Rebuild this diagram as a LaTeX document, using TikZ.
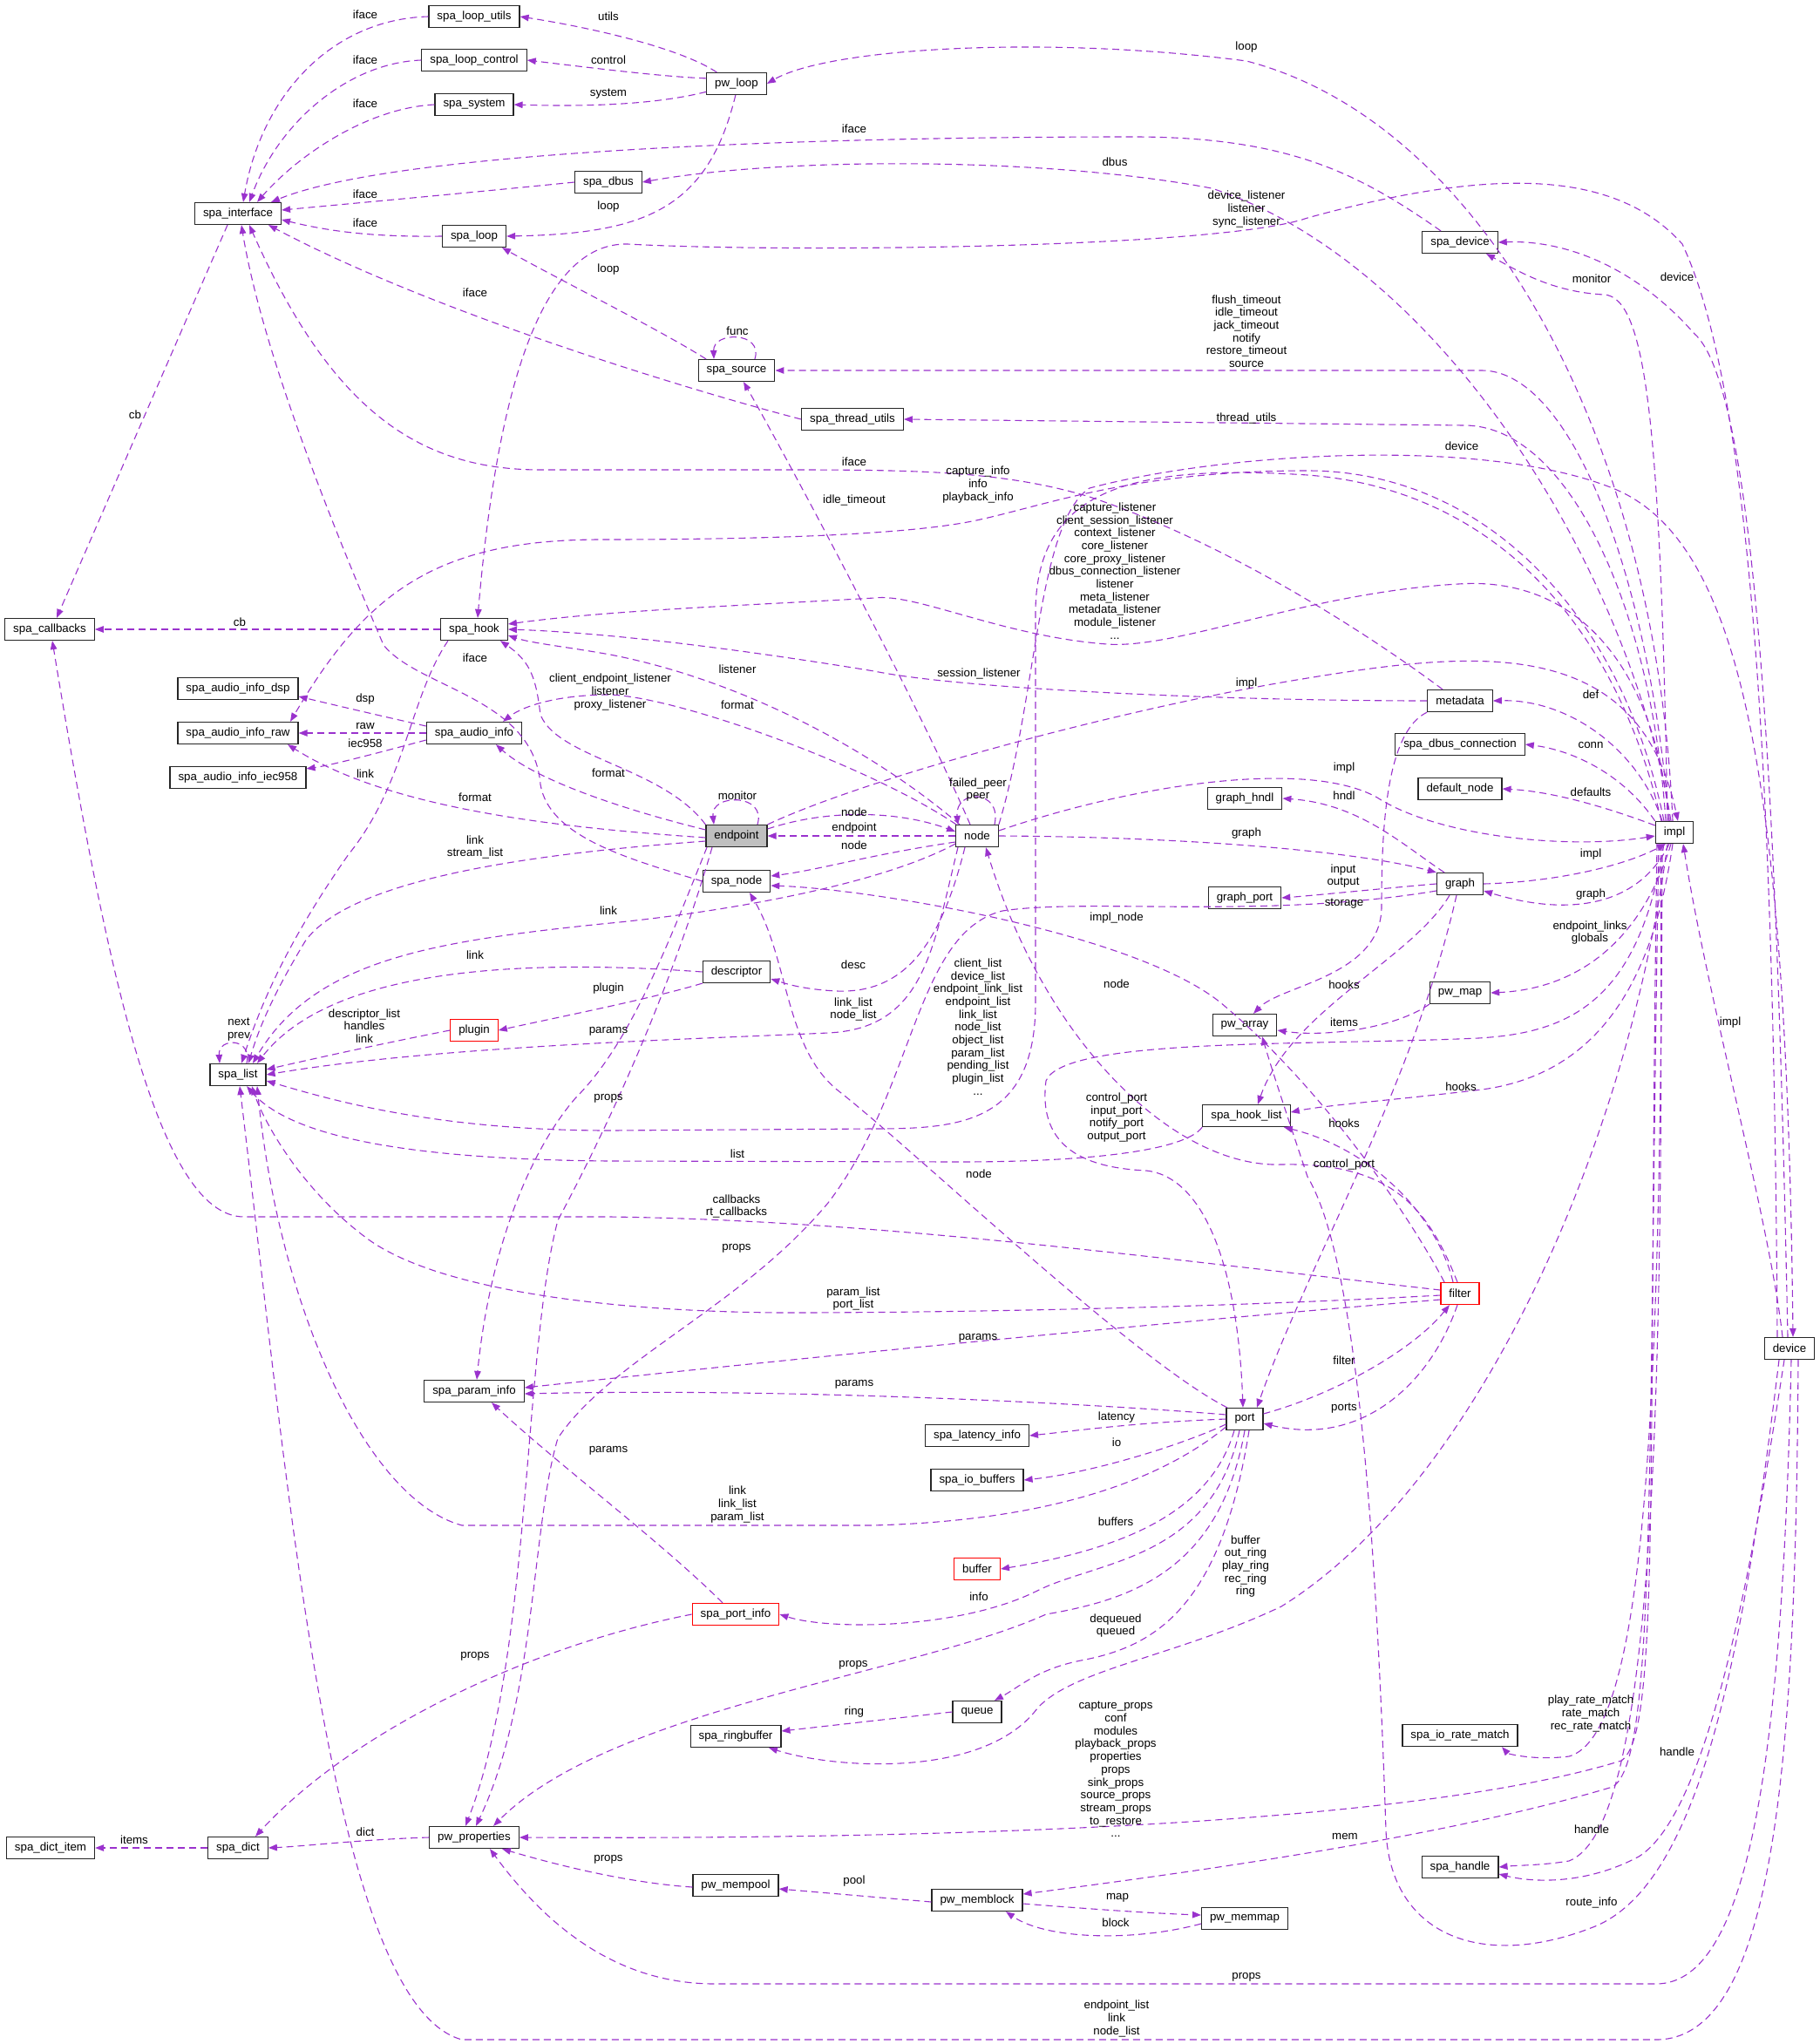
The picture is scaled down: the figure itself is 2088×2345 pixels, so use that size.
\documentclass[tikz,border=0pt]{standalone}
\usepackage{fontspec}
\setmainfont{Liberation Sans}
\usepackage{xcolor}
\usepackage{tikz}
\definecolor{edgepurple}{RGB}{154,50,205}
\definecolor{boxgrey}{RGB}{191,191,191}
\usetikzlibrary{arrows.meta, positioning}

\begin{document}
\begin{tikzpicture}[
    x=1pt, y=-1pt,
    box/.style={rectangle, draw=black!85, line width=1.2pt, minimum height=25pt, inner xsep=9.5pt, inner ysep=0pt, font=\fontsize{13.3}{15}\selectfont},
    trunc/.style={box, draw=red},
    lbl/.style={align=center, inner sep=0pt, font=\fontsize{13.3}{14.7}\selectfont},
    conn/.style={draw=edgepurple, line width=1.1pt, dash pattern=on 8pt off 5pt, -{Triangle[length=10pt,width=7.5pt]}}
]
    \useasboundingbox (0,0) rectangle (2088,2345);

    \node[box] (loputils) at (544,19) {spa\_loop\_utils};
    \node[box] (locontrol) at (544,69) {spa\_loop\_control};
    \node[box] (system) at (544,120) {spa\_system};
    \node[box] (pwloop) at (845,96) {pw\_loop};
    \node[box] (dbus) at (698,209) {spa\_dbus};
    \node[box] (iface) at (273,245) {spa\_interface};
    \node[box] (sloop) at (544,271) {spa\_loop};
    \node[box] (sdevice) at (1675,278) {spa\_device};
    \node[box] (source) at (845,425) {spa\_source};
    \node[box] (thutils) at (978,481) {spa\_thread\_utils};
    \node[box] (callbacks) at (57,722) {spa\_callbacks};
    \node[box] (hook) at (544,722) {spa\_hook};
    \node[box] (aidsp) at (273,790) {spa\_audio\_info\_dsp};
    \node[box] (airaw) at (273,841) {spa\_audio\_info\_raw};
    \node[box] (ainfo) at (544,841) {spa\_audio\_info};
    \node[box] (aiiec) at (273,892) {spa\_audio\_info\_iec958};
    \node[box, fill=boxgrey] (endpoint) at (845,959) {endpoint};
    \node[box] (node) at (1121,959) {node};
    \node[box] (snode) at (845,1011) {spa\_node};
    \node[box] (descriptor) at (845,1115) {descriptor};
    \node[trunc] (plugin) at (544,1182) {plugin};
    \node[box] (slist) at (273,1233) {spa\_list};
    \node[box] (metadata) at (1675,804) {metadata};
    \node[box] (dbusconn) at (1675,854) {spa\_dbus\_connection};
    \node[box] (defnode) at (1675,905) {default\_node};
    \node[box] (impl) at (1921,955) {impl};
    \node[box] (ghndl) at (1428,916) {graph\_hndl};
    \node[box] (graph) at (1675,1014) {graph};
    \node[box] (gport) at (1428,1030) {graph\_port};
    \node[box] (pwmap) at (1675,1139) {pw\_map};
    \node[box] (pwarray) at (1428,1176) {pw\_array};
    \node[box] (hooklist) at (1430,1280) {spa\_hook\_list};
    \node[trunc] (filter) at (1675,1484) {filter};
    \node[box] (device) at (2053,1547) {device};
    \node[box] (paraminfo) at (544,1596) {spa\_param\_info};
    \node[box] (port) at (1428,1628) {port};
    \node[box] (latency) at (1121,1647) {spa\_latency\_info};
    \node[box] (iobuf) at (1121,1698) {spa\_io\_buffers};
    \node[trunc] (buffer) at (1121,1800) {buffer};
    \node[trunc] (portinfo) at (844,1852) {spa\_port\_info};
    \node[box] (queue) at (1121,1964) {queue};
    \node[box] (ringbuf) at (844,1992) {spa\_ringbuffer};
    \node[box] (ratematch) at (1675,1991) {spa\_io\_rate\_match};
    \node[box] (dictitem) at (58,2120) {spa\_dict\_item};
    \node[box] (dict) at (273,2120) {spa\_dict};
    \node[box] (props) at (544,2108) {pw\_properties};
    \node[box] (handle) at (1675,2142) {spa\_handle};
    \node[box] (mempool) at (844,2163) {pw\_mempool};
    \node[box] (memblock) at (1121,2180) {pw\_memblock};
    \node[box] (memmap) at (1428,2201) {pw\_memmap};

    \draw[conn] (pwloop.150) .. controls (780,55) and (680,32) .. (loputils.east);
    \draw[conn] (pwloop.170) .. controls (760,88) and (680,78) .. (locontrol.east);
    \draw[conn] (pwloop.195) .. controls (760,118) and (690,123) .. (system.east);
    \draw[conn] (pwloop.265) .. controls (812,240) and (740,268) .. (sloop.east);
    \draw[conn] (loputils.west) .. controls (380,22) and (300,110) .. ([xshift=6pt]iface.north);
    \draw[conn] (locontrol.west) .. controls (400,72) and (320,140) .. ([xshift=13pt]iface.north);
    \draw[conn] (system.west) .. controls (420,124) and (340,180) .. ([xshift=22pt]iface.north);
    \draw[conn] ([xshift=-22pt]sdevice.north) .. controls (1560,200) and (1480,157) .. (1300,157) .. controls (900,157) and (450,175) .. ([xshift=38pt]iface.north);
    \draw[conn] (dbus.west) .. controls (550,220) and (420,232) .. ([yshift=4pt]iface.east);
    \draw[conn] (sloop.west) .. controls (430,272) and (380,266) .. ([yshift=-7pt]iface.east);
    \draw[conn] (thutils.west) .. controls (800,450) and (500,360) .. ([xshift=35pt]iface.south);
    \draw[conn] ([xshift=-20pt]metadata.north) .. controls (1560,720) and (1400,620) .. (1250,570) .. controls (1150,540) and (1050,539) .. (900,539) -- (620,539) .. controls (480,539) and (380,470) .. ([xshift=13pt]iface.south);
    \draw[conn] (snode.west) .. controls (720,985) and (630,960) .. (620,900) .. controls (612,800) and (480,790) .. (440,740) .. controls (380,600) and (300,400) .. ([xshift=4pt]iface.south);
    \draw[conn] ([xshift=-12pt]iface.south) -- ([xshift=8pt]callbacks.north);
    \draw[conn] (hook.west) -- (callbacks.east);
    \draw[conn] ([yshift=4pt]filter.west) .. controls (1300,1440) and (1000,1400) .. (700,1396) -- (280,1396) .. controls (180,1396) and (120,1100) .. ([xshift=3pt]callbacks.south);

    \draw[conn] ([xshift=-14pt]device.north) .. controls (2035,900) and (2010,450) .. (1930,280) .. controls (1850,190) and (1700,195) .. (1500,250) .. controls (1400,285) and (900,290) .. (720,280) .. controls (620,278) and (570,450) .. ([xshift=4pt]hook.north);
    \draw[conn] ([xshift=-6pt]impl.north) .. controls (1900,780) and (1820,660) .. (1673,670) .. controls (1500,680) and (1350,745) .. (1270,739) .. controls (1150,730) and (1050,680) .. (1003,686) .. controls (850,695) and (700,700) .. ([yshift=6pt]hook.east);
    \draw[conn] (metadata.west) .. controls (1400,804) and (1100,790) .. (1003,770) .. controls (850,745) and (700,726) .. (hook.east);
    \draw[conn] ([xshift=-20pt]node.north) .. controls (1000,860) and (850,780) .. (700,751) .. controls (650,742) and (610,738) .. ([yshift=-7pt]hook.east);
    \draw[conn] (endpoint.north west) .. controls (760,880) and (640,870) .. (620,820) .. controls (615,780) and (610,760) .. ([xshift=30pt]hook.south);

    \draw[conn] ([yshift=8pt]ainfo.west) .. controls (440,822) and (380,808) .. ([yshift=-9pt]aidsp.east);
    \draw[conn] (ainfo.west) -- (airaw.east);
    \draw[conn] ([yshift=-8pt]ainfo.west) .. controls (440,862) and (380,878) .. ([yshift=-3pt]aiiec.north east);
    \draw[conn] ([xshift=-12pt]impl.north) .. controls (1860,700) and (1700,540) .. (1500,540) .. controls (1300,540) and (1200,580) .. (1120,597) .. controls (1050,612) and (900,619) .. (690,619) .. controls (500,619) and (420,680) .. ([xshift=60pt]airaw.north);
    \draw[conn] ([yshift=7pt]endpoint.west) .. controls (740,935) and (620,900) .. ([xshift=25pt]ainfo.south);
    \draw[conn] ([yshift=-2pt]endpoint.west) .. controls (650,950) and (450,930) .. ([xshift=57pt]airaw.south);
    \draw[conn] ([xshift=-24pt]node.north) .. controls (1000,880) and (780,800) .. (700,797) .. controls (640,797) and (600,810) .. ([xshift=33pt]ainfo.north);

    \draw[conn] ([xshift=24pt]endpoint.north) .. controls (880,910) and (815,910) .. ([xshift=-26pt]endpoint.north);
    \draw[conn] ([xshift=20pt]node.north) .. controls (1150,905) and (1095,905) .. ([xshift=-22pt]node.north);
    \draw[conn] ([xshift=21pt]source.north) .. controls (876,380) and (818,380) .. ([xshift=-26pt]source.north);
    \draw[conn] ([xshift=10pt]slist.north) .. controls (290,1190) and (250,1190) .. ([xshift=-21pt]slist.north);

    \draw[conn] ([yshift=8pt]endpoint.east) .. controls (950,928) and (1030,930) .. ([yshift=5pt]node.west);
    \draw[conn] (node.west) -- (endpoint.east);
    \draw[conn] ([yshift=-7pt]node.west) .. controls (1000,980) and (940,998) .. ([yshift=6pt]snode.east);
    \draw[conn] ([xshift=-18pt]filter.north) .. controls (1620,1400) and (1520,1250) .. (1400,1150) .. controls (1300,1070) and (1000,1020) .. ([yshift=-5pt]snode.east);
    \draw[conn] ([xshift=-20pt]port.north) .. controls (1300,1560) and (1050,1320) .. (960,1250) .. controls (900,1200) and (905,1100) .. ([xshift=15pt]snode.south);
    \draw[conn] ([xshift=-14pt]node.south) .. controls (1080,1080) and (1040,1140) .. (960,1137) .. controls (920,1135) and (900,1128) .. ([yshift=-8pt]descriptor.east);
    \draw[conn] (descriptor.south west) .. controls (750,1145) and (650,1165) .. (plugin.east);
    \draw[conn] (descriptor.west) .. controls (600,1100) and (380,1110) .. ([xshift=22pt]slist.north);
    \draw[conn] ([yshift=-9pt]node.west) .. controls (1000,1020) and (800,1050) .. (690,1060) .. controls (500,1080) and (360,1100) .. ([xshift=17pt]slist.north);
    \draw[conn] ([yshift=-6pt]endpoint.west) .. controls (600,980) and (400,1010) .. (350,1080) .. controls (320,1130) and (300,1170) .. ([xshift=12pt]slist.north);
    \draw[conn] ([xshift=-30pt]hook.south) .. controls (470,800) and (465,900) .. (400,980) .. controls (330,1080) and (300,1150) .. ([xshift=4pt]slist.north);
    \draw[conn] (plugin.west) .. controls (450,1195) and (380,1210) .. ([yshift=6pt]slist.east);
    \draw[conn] ([xshift=-22pt]node.south) .. controls (1070,1090) and (1060,1180) .. (950,1185) .. controls (800,1192) and (500,1200) .. (slist.east);
    \draw[conn] ([xshift=-15pt]impl.north) .. controls (1850,700) and (1700,560) .. (1500,545) .. controls (1300,532) and (1190,560) .. (1188,700) -- (1188,1150) .. controls (1188,1290) and (1100,1295) .. (1000,1295) -- (700,1297) .. controls (500,1297) and (380,1262) .. ([yshift=-7pt]slist.east);
    \draw[conn] (hooklist.south west) .. controls (1360,1320) and (1250,1333) .. (1100,1333) -- (700,1332) .. controls (450,1330) and (330,1300) .. ([xshift=10pt]slist.south);
    \draw[conn] ([yshift=-2pt]filter.west) .. controls (1400,1500) and (1100,1506) .. (900,1506) .. controls (700,1505) and (500,1480) .. (420,1420) .. controls (340,1360) and (300,1280) .. ([xshift=16pt]slist.south);
    \draw[conn] ([yshift=-9pt]port.west) .. controls (1330,1700) and (1200,1745) .. (1000,1750) -- (530,1750) .. controls (420,1720) and (320,1500) .. ([xshift=22pt]slist.south);
    \draw[conn] ([xshift=10pt]device.south) .. controls (2060,2000) and (2040,2340) .. (1900,2340) -- (530,2340) .. controls (380,2300) and (330,1700) .. ([xshift=2pt]slist.south);

    \draw[conn] ([xshift=-2pt]impl.north) .. controls (1900,500) and (1700,140) .. (1430,70) .. controls (1200,40) and (950,55) .. (pwloop.east);
    \draw[conn] ([xshift=-4pt]impl.north) .. controls (1870,650) and (1650,300) .. (1390,216) .. controls (1200,180) and (900,180) .. (dbus.east);
    \draw[conn] ([xshift=-8pt]impl.north) .. controls (1905,500) and (1890,340) .. (1840,338) .. controls (1780,335) and (1740,310) .. ([xshift=30pt]sdevice.south);
    \draw[conn] ([xshift=-6pt]impl.north) .. controls (1890,650) and (1800,425) .. (1700,425) -- (source.east);
    \draw[conn] ([xshift=-10pt]impl.north) .. controls (1895,700) and (1800,488) .. (1680,488) -- (thutils.east);
    \draw[conn] ([xshift=-14pt]impl.north) .. controls (1880,860) and (1800,802) .. (metadata.east);
    \draw[conn] (impl.north west) .. controls (1860,885) and (1800,860) .. (dbusconn.east);
    \draw[conn] ([yshift=8pt]impl.west) .. controls (1840,925) and (1780,908) .. (defnode.east);
    \draw[conn] ([yshift=6pt]node.east) .. controls (1300,900) and (1500,870) .. (1580,915) .. controls (1650,960) and (1800,975) .. ([yshift=-4pt]impl.west);
    \draw[conn] (endpoint.north east) .. controls (1000,890) and (1300,810) .. (1500,778) .. controls (1700,745) and (1880,730) .. ([xshift=4pt]impl.north);
    \draw[conn] (graph.east) .. controls (1780,1012) and (1860,995) .. ([xshift=-10pt]impl.south);
    \draw[conn] ([xshift=-6pt]impl.south) .. controls (1880,1040) and (1800,1052) .. ([yshift=-8pt]graph.east);
    \draw[conn] ([xshift=-4pt]impl.south) .. controls (1880,1090) and (1800,1135) .. (pwmap.east);
    \draw[conn] (node.east) .. controls (1350,960) and (1550,975) .. (graph.north west);
    \draw[conn] ([xshift=-18pt]graph.north) .. controls (1610,970) and (1560,922) .. (ghndl.east);
    \draw[conn] (graph.west) .. controls (1600,1018) and (1500,1028) .. (gport.east);
    \draw[conn] (pwmap.south west) .. controls (1600,1180) and (1520,1190) .. ([yshift=-6pt]pwarray.east);
    \draw[conn] (metadata.south west) .. controls (1590,840) and (1585,950) .. (1585,1040) .. controls (1585,1120) and (1470,1130) .. ([xshift=10pt]pwarray.north);
    \draw[conn] ([xshift=-12pt]graph.south) .. controls (1620,1100) and (1480,1160) .. ([xshift=13pt]hooklist.north);
    \draw[conn] ([xshift=-4pt]graph.south) .. controls (1620,1250) and (1500,1450) .. ([xshift=14pt]port.north);
    \draw[conn] ([xshift=-2pt]impl.south) .. controls (1900,1100) and (1850,1230) .. (1700,1250) .. controls (1600,1262) and (1520,1268) .. ([yshift=4pt]hooklist.east);
    \draw[conn] ([xshift=-8pt]filter.north) .. controls (1650,1400) and (1580,1320) .. ([xshift=-8pt]hooklist.south east);
    \draw[conn] ([xshift=-3pt]filter.north) .. controls (1640,1390) and (1600,1333) .. (1470,1336) .. controls (1350,1340) and (1200,1200) .. ([xshift=10pt]node.south);
    \draw[conn] ([xshift=-12pt]impl.south) .. controls (1880,1150) and (1800,1185) .. (1696,1191) .. controls (1500,1200) and (1220,1190) .. (1200,1240) .. controls (1190,1320) and (1250,1340) .. (1315,1343) .. controls (1380,1350) and (1420,1450) .. ([xshift=-2pt]port.north);
    \draw[conn] ([xshift=-8pt]device.north) .. controls (2030,1400) and (1960,1150) .. ([xshift=10pt]impl.south);
    \draw[conn] ([xshift=-2pt]device.north) .. controls (2040,1000) and (2020,450) .. (1944,383) .. controls (1880,310) and (1800,275) .. (sdevice.east);
    \draw[conn] (node.north east) .. controls (1190,800) and (1190,600) .. (1250,560) .. controls (1400,520) and (1700,500) .. (1850,560) .. controls (2000,620) and (2050,900) .. ([xshift=4pt]device.north);

    \draw[conn] ([yshift=6pt]port.east) .. controls (1530,1600) and (1620,1550) .. ([xshift=-12pt]filter.south);
    \draw[conn] ([xshift=-3pt]filter.south) .. controls (1640,1590) and (1560,1660) .. ([yshift=-5pt]port.east);
    \draw[conn] ([yshift=-7pt]filter.west) .. controls (1300,1520) and (900,1560) .. ([yshift=4pt]paraminfo.east);
    \draw[conn] ([yshift=5pt]port.west) .. controls (1250,1610) and (900,1592) .. ([yshift=-3pt]paraminfo.east);
    \draw[conn] ([xshift=-15pt]portinfo.north) .. controls (760,1770) and (640,1680) .. ([xshift=20pt]paraminfo.south);
    \draw[conn] (port.west) .. controls (1300,1632) and (1230,1642) .. (latency.east);
    \draw[conn] ([yshift=-6pt]port.west) .. controls (1350,1660) and (1250,1690) .. (iobuf.east);
    \draw[conn] ([xshift=-12pt]port.south) .. controls (1390,1730) and (1300,1775) .. (buffer.east);
    \draw[conn] ([xshift=-6pt]port.south) .. controls (1390,1790) and (1260,1790) .. (1190,1825) .. controls (1100,1870) and (950,1870) .. (portinfo.east);
    \draw[conn] (port.south) .. controls (1400,1800) and (1300,1835) .. (1200,1852) .. controls (1050,1920) and (700,1960) .. ([xshift=22pt]props.north);
    \draw[conn] ([xshift=5pt]port.south) .. controls (1400,1850) and (1320,1890) .. (1240,1905) .. controls (1190,1915) and (1170,1935) .. ([xshift=20pt]queue.north);
    \draw[conn] ([xshift=-8pt]impl.south) .. controls (1870,1300) and (1700,1700) .. (1470,1843) .. controls (1350,1900) and (1230,1915) .. (1190,1960) .. controls (1130,2040) and (960,2030) .. ([xshift=38pt]ringbuf.south);
    \draw[conn] (queue.west) -- ([yshift=6pt]ringbuf.east);
    \draw[conn] ([xshift=-14pt]impl.south) .. controls (1905,1600) and (1890,1990) .. (1800,2015) .. controls (1760,2020) and (1730,2012) .. ([xshift=48pt]ratematch.south);
    \draw[conn] ([xshift=-16pt]impl.south) .. controls (1910,1700) and (1890,2100) .. (1800,2135) .. controls (1770,2140) and (1740,2140) .. (handle.east);
    \draw[conn] ([xshift=-6pt]device.south) .. controls (2010,1800) and (1960,2080) .. (1880,2130) .. controls (1820,2162) and (1760,2160) .. ([yshift=-8pt]handle.east);
    \draw[conn] ([xshift=-12pt]device.south) .. controls (2000,1900) and (1950,2160) .. (1830,2210) .. controls (1700,2262) and (1595,2220) .. (1590,2100) .. controls (1580,1800) and (1560,1450) .. (1500,1350) .. controls (1480,1290) and (1460,1230) .. ([xshift=20pt]pwarray.south);
    \draw[conn] ([xshift=2pt]device.south) .. controls (2045,2000) and (2010,2276) .. (1900,2276) -- (820,2276) .. controls (700,2276) and (620,2200) .. ([xshift=18pt]props.south);
    \draw[conn] ([yshift=-2pt]mempool.west) .. controls (720,2160) and (640,2140) .. ([xshift=32pt]props.south);
    \draw[conn] ([yshift=-2pt]memblock.west) -- ([yshift=-4pt]mempool.east);
    \draw[conn] ([yshift=-4pt]memblock.east) .. controls (1250,2190) and (1320,2195) .. ([yshift=4pt]memmap.west);
    \draw[conn] ([yshift=-6pt]memmap.west) .. controls (1300,2228) and (1200,2225) .. ([xshift=33pt]memblock.south);
    \draw[conn] ([xshift=-18pt]impl.south) .. controls (1890,1700) and (1900,2020) .. (1850,2050) .. controls (1650,2110) and (1350,2150) .. ([yshift=7pt]memblock.east);
    \draw[conn] ([xshift=-20pt]impl.south) .. controls (1890,1700) and (1905,1990) .. (1860,2020) .. controls (1600,2100) and (1000,2110) .. (props.east);
    \draw[conn] (portinfo.west) .. controls (600,1890) and (400,1990) .. ([xshift=20pt]dict.north);
    \draw[conn] (props.west) .. controls (420,2110) and (350,2118) .. (dict.east);
    \draw[conn] (dict.west) -- (dictitem.east);
    \draw[conn] ([xshift=-28pt]endpoint.south) .. controls (780,1100) and (720,1250) .. (640,1400) .. controls (600,1550) and (610,1900) .. ([xshift=-10pt]props.north);
    \draw[conn] ([xshift=-34pt]endpoint.south) .. controls (760,1100) and (720,1200) .. (660,1260) .. controls (600,1330) and (560,1450) .. ([xshift=3pt]paraminfo.north);
    \draw[conn] ([yshift=-8pt]graph.west) .. controls (1450,1055) and (1250,1030) .. (1150,1045) .. controls (1050,1070) and (1050,1250) .. (950,1380) .. controls (850,1500) and (700,1560) .. (640,1650) .. controls (610,1750) and (615,1950) .. ([xshift=2pt]props.north);
    \draw[conn] ([xshift=-8pt]node.north) .. controls (1050,800) and (900,520) .. ([xshift=8pt]source.south);
    \draw[conn] ([xshift=-35pt]source.north) .. controls (760,380) and (640,320) .. ([xshift=32pt]sloop.south);

    \node[lbl] (l1) at (419,17) {iface};
    \node[lbl] (l2) at (419,69) {iface};
    \node[lbl] (l3) at (419,119) {iface};
    \node[lbl] (l4) at (698,19) {utils};
    \node[lbl] (l5) at (698,69) {control};
    \node[lbl] (l6) at (698,108) {system};
    \node[lbl] (l7) at (1430,54) {loop};
    \node[lbl] (l8) at (980,148) {iface};
    \node[lbl] (l9) at (1279,186) {dbus};
    \node[lbl] (l10) at (419,223) {iface};
    \node[lbl] (l11) at (698,237) {loop};
    \node[lbl] (l12) at (1430,240) {device\_listener\\listener\\sync\_listener};
    \node[lbl] (l13) at (419,256) {iface};
    \node[lbl] (l14) at (1826,320) {monitor};
    \node[lbl] (l15) at (1924,318) {device};
    \node[lbl] (l16) at (698,309) {loop};
    \node[lbl] (l17) at (545,336) {iface};
    \node[lbl] (l18) at (846,380) {func};
    \node[lbl] (l19) at (1430,380) {flush\_timeout\\idle\_timeout\\jack\_timeout\\notify\\restore\_timeout\\source};
    \node[lbl] (l20) at (1430,480) {thread\_utils};
    \node[lbl] (l21) at (980,530) {iface};
    \node[lbl] (l22) at (1677,512) {device};
    \node[lbl] (l23) at (1122,556) {capture\_info\\info\\playback\_info};
    \node[lbl] (l24) at (980,574) {idle\_timeout};
    \node[lbl] (l25) at (1279,655) {capture\_listener\\client\_session\_listener\\context\_listener\\core\_listener\\core\_proxy\_listener\\dbus\_connection\_listener\\listener\\meta\_listener\\metadata\_listener\\module\_listener\\...};
    \node[lbl] (l26) at (155,476) {cb};
    \node[lbl] (l27) at (275,714) {cb};
    \node[lbl] (l28) at (545,755) {iface};
    \node[lbl] (l29) at (700,794) {client\_endpoint\_listener\\listener\\proxy\_listener};
    \node[lbl] (l30) at (846,768) {listener};
    \node[lbl] (l31) at (1123,773) {session\_listener};
    \node[lbl] (l32) at (846,809) {format};
    \node[lbl] (l33) at (1430,784) {impl};
    \node[lbl] (l34) at (1825,797) {def};
    \node[lbl] (l35) at (419,802) {dsp};
    \node[lbl] (l36) at (419,833) {raw};
    \node[lbl] (l37) at (419,853) {iec958};
    \node[lbl] (l38) at (1825,855) {conn};
    \node[lbl] (l39) at (419,888) {link};
    \node[lbl] (l40) at (698,887) {format};
    \node[lbl] (l41) at (545,915) {format};
    \node[lbl] (l42) at (846,913) {monitor};
    \node[lbl] (l43) at (1122,906) {failed\_peer\\peer};
    \node[lbl] (l44) at (980,932) {node};
    \node[lbl] (l45) at (980,950) {endpoint};
    \node[lbl] (l46) at (980,970) {node};
    \node[lbl] (l47) at (1542,881) {impl};
    \node[lbl] (l48) at (1542,913) {hndl};
    \node[lbl] (l49) at (1825,909) {defaults};
    \node[lbl] (l50) at (1430,956) {graph};
    \node[lbl] (l51) at (545,972) {link\\stream\_list};
    \node[lbl] (l52) at (1825,980) {impl};
    \node[lbl] (l53) at (1541,1005) {input\\output};
    \node[lbl] (l54) at (1825,1026) {graph};
    \node[lbl] (l55) at (1542,1037) {storage};
    \node[lbl] (l56) at (698,1045) {link};
    \node[lbl] (l57) at (1281,1053) {impl\_node};
    \node[lbl] (l58) at (1824,1070) {endpoint\_links\\globals};
    \node[lbl] (l59) at (545,1096) {link};
    \node[lbl] (l60) at (979,1107) {desc};
    \node[lbl] (l61) at (1122,1178) {client\_list\\device\_list\\endpoint\_link\_list\\endpoint\_list\\link\_list\\node\_list\\object\_list\\param\_list\\pending\_list\\plugin\_list\\...};
    \node[lbl] (l62) at (1281,1129) {node};
    \node[lbl] (l63) at (698,1134) {plugin};
    \node[lbl] (l64) at (979,1158) {link\_list\\node\_list};
    \node[lbl] (l65) at (1542,1130) {hooks};
    \node[lbl] (l66) at (1985,1173) {impl};
    \node[lbl] (l67) at (1542,1173) {items};
    \node[lbl] (l68) at (274,1181) {next\\prev};
    \node[lbl] (l69) at (418,1177) {descriptor\_list\\handles\\link};
    \node[lbl] (l70) at (698,1183) {params};
    \node[lbl] (l71) at (1676,1247) {hooks};
    \node[lbl] (l72) at (698,1260) {props};
    \node[lbl] (l73) at (1281,1282) {control\_port\\input\_port\\notify\_port\\output\_port};
    \node[lbl] (l74) at (846,1324) {list};
    \node[lbl] (l75) at (1542,1289) {hooks};
    \node[lbl] (l76) at (1123,1347) {node};
    \node[lbl] (l77) at (1542,1336) {control\_port};
    \node[lbl] (l78) at (845,1384) {callbacks\\rt\_callbacks};
    \node[lbl] (l79) at (845,1432) {props};
    \node[lbl] (l80) at (979,1490) {param\_list\\port\_list};
    \node[lbl] (l81) at (1122,1535) {params};
    \node[lbl] (l82) at (1542,1561) {filter};
    \node[lbl] (l83) at (980,1588) {params};
    \node[lbl] (l84) at (1281,1626) {latency};
    \node[lbl] (l85) at (698,1664) {params};
    \node[lbl] (l86) at (1542,1616) {ports};
    \node[lbl] (l87) at (1281,1655) {io};
    \node[lbl] (l88) at (846,1726) {link\\link\_list\\param\_list};
    \node[lbl] (l89) at (1280,1746) {buffers};
    \node[lbl] (l90) at (1429,1797) {buffer\\out\_ring\\play\_ring\\rec\_ring\\ring};
    \node[lbl] (l91) at (1123,1832) {info};
    \node[lbl] (l92) at (1280,1865) {dequeued\\queued};
    \node[lbl] (l93) at (545,1900) {props};
    \node[lbl] (l94) at (979,1910) {props};
    \node[lbl] (l95) at (980,1964) {ring};
    \node[lbl] (l96) at (1280,2030) {capture\_props\\conf\\modules\\playback\_props\\properties\\props\\sink\_props\\source\_props\\stream\_props\\to\_restore\\...};
    \node[lbl] (l97) at (1825,1966) {play\_rate\_match\\rate\_match\\rec\_rate\_match};
    \node[lbl] (l98) at (1924,2010) {handle};
    \node[lbl] (l99) at (154,2111) {items};
    \node[lbl] (l100) at (419,2102) {dict};
    \node[lbl] (l101) at (1826,2099) {handle};
    \node[lbl] (l102) at (698,2133) {props};
    \node[lbl] (l103) at (1543,2107) {mem};
    \node[lbl] (l104) at (980,2158) {pool};
    \node[lbl] (l105) at (1282,2177) {map};
    \node[lbl] (l106) at (1280,2206) {block};
    \node[lbl] (l107) at (1826,2183) {route\_info};
    \node[lbl] (l108) at (1430,2268) {props};
    \node[lbl] (l109) at (1281,2316) {endpoint\_list\\link\\node\_list};
\end{tikzpicture}
\end{document}
